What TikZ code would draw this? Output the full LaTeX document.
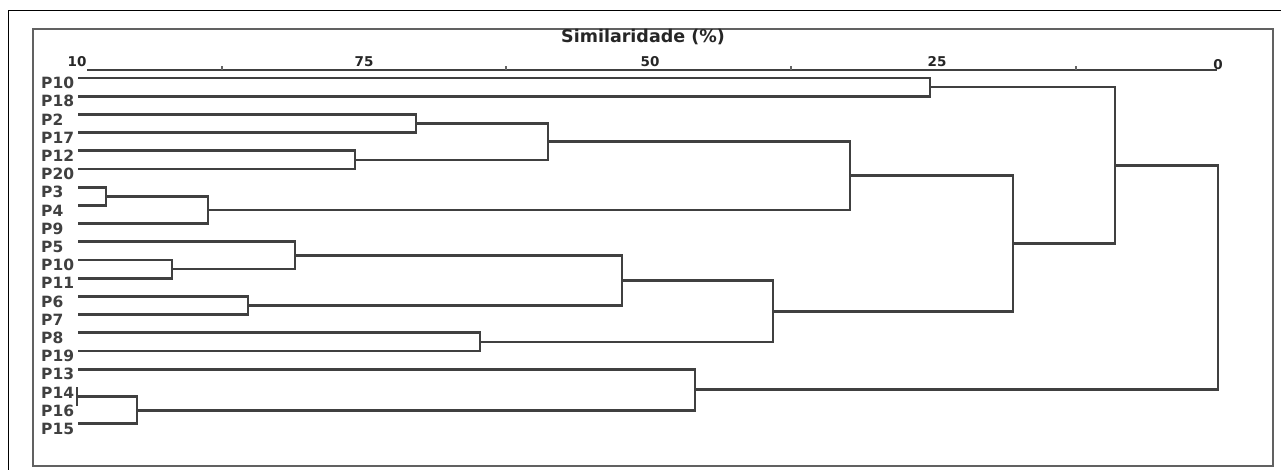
\documentclass[tikz,border=0pt]{standalone}
\usepackage{fontspec}
\setmainfont{DejaVu Sans}
\begin{document}
\begin{tikzpicture}[x=1pt,y=-1pt,
  branch/.style={draw=black!75,line width=2.7pt,line join=miter},
  leaflbl/.style={anchor=west,inner sep=0pt,text=black!75,font=\bfseries\fontsize{15.5}{15.5}\selectfont},
  ticklbl/.style={inner sep=0pt,text=black!85,font=\bfseries\fontsize{13.5}{13.5}\selectfont},
  tickmark/.style={draw=black!60,line width=1.2pt}]
\useasboundingbox (0,0) rectangle (1281,469);
\fill[white] (0,0) rectangle (1281,469);
% outer frame
\draw[black,line width=1pt] (8,475) -- (8,10) -- (1290,10);
% inner frame
\draw[black!62,line width=2.8pt] (33,29) rectangle (1273,466);
% title
\node[inner sep=0pt,text=black!85,font=\bfseries\fontsize{17.5}{17.5}\selectfont] (title) at (643,37) {Similaridade (\%)};
% axis
\coordinate (ax0) at (87,70);
\coordinate (ax1) at (1217,70);
\draw[branch,line width=2.4pt] (ax0) -- (ax1);
\foreach \tx [count=\k] in {222,506,791,1076}{
  \coordinate (tk\k) at (\tx,70);
  \draw[tickmark] (tk\k) -- ++(0,-4);
}
\node[ticklbl] (t100) at (77,62) {10};
\node[ticklbl] (t75) at (364,62) {75};
\node[ticklbl] (t50) at (650,62) {50};
\node[ticklbl] (t25) at (937,62) {25};
\node[ticklbl,anchor=south] (t0) at (1218,70) {0};
% leaves
\foreach \lab/\yy [count=\i from 0] in {P10/78,P18/96.2,P2/114.4,P17/132.6,P12/150.8,P20/169,P3/187.2,P4/205.4,P9/223.6,P5/241.8,P10/260,P11/278.2,P6/296.4,P7/314.6,P8/332.8,P19/351,P13/369.2,P14/387.4,P16/405.6,P15/423.8}{
  \node[leaflbl] (n\i) at (41,\yy+5) {\lab};
  \coordinate (L\i) at (78,\yy);
}
\coordinate (L17) at (77,387.4);
\coordinate (L18) at (77,405.6);
% merge points
\coordinate (A) at (930,87.1);
\coordinate (B) at (416,123.5);
\coordinate (C) at (355,159.9);
\coordinate (D) at (548,141.7);
\coordinate (E) at (106,196.3);
\coordinate (F) at (208,210);
\coordinate (G) at (850,175.8);
\coordinate (H) at (172,269.1);
\coordinate (I) at (295,255.5);
\coordinate (J) at (248,305.5);
\coordinate (K) at (622,280.5);
\coordinate (Lm) at (480,341.9);
\coordinate (M) at (773,311.2);
\coordinate (N) at (1013,243.5);
\coordinate (O) at (1115,165.3);
\coordinate (P) at (77,396.5);
\coordinate (Q) at (137,410.2);
\coordinate (R) at (695,389.7);
\coordinate (S) at (1218,277.5);
% dendrogram
\draw[branch] (L0) -| (A) |- (L1);
\draw[branch] (L2) -| (B) |- (L3);
\draw[branch] (L4) -| (C) |- (L5);
\draw[branch] (B) -| (D) |- (C);
\draw[branch] (L6) -| (E) |- (L7);
\draw[branch] (E) -| (F) |- (L8);
\draw[branch] (D) -| (G) |- (F);
\draw[branch] (L10) -| (H) |- (L11);
\draw[branch] (L9) -| (I) |- (H);
\draw[branch] (L12) -| (J) |- (L13);
\draw[branch] (I) -| (K) |- (J);
\draw[branch] (L14) -| (Lm) |- (L15);
\draw[branch] (K) -| (M) |- (Lm);
\draw[branch] (G) -| (N) |- (M);
\draw[branch] (A) -| (O) |- (N);
\draw[branch,line width=1.8pt] (L17) -- (L18);
\draw[branch] (P) -| (Q) |- (L19);
\draw[branch] (L16) -| (R) |- (Q);
\draw[branch] (O) -| (S) |- (R);
\end{tikzpicture}
\end{document}
